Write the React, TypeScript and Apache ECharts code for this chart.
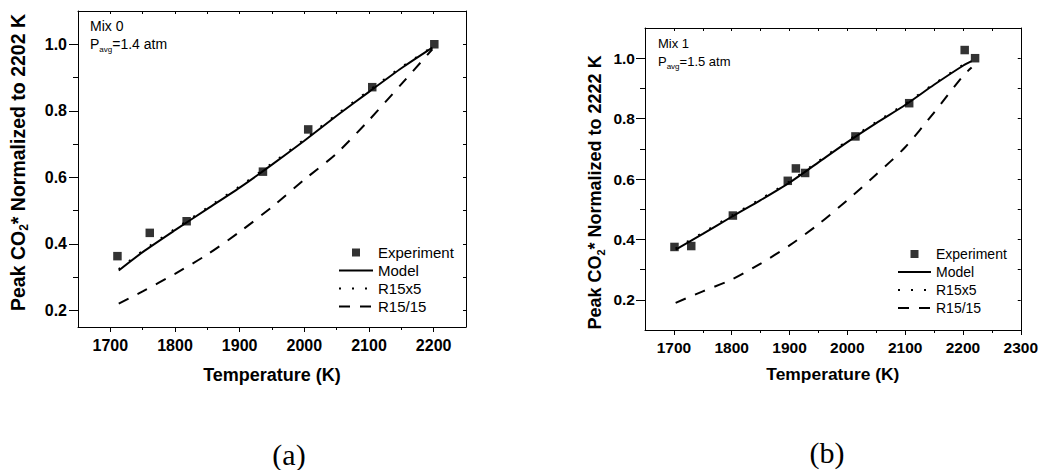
import React, { useEffect, useRef } from "react";
import * as echarts from "echarts";

// ---------- data ----------
// Panel (a): Mix 0, normalized to 2202 K
const expTempA = [1711, 1761, 1818, 1936, 2006, 2105, 2201];
const expValA = [0.363, 0.433, 0.468, 0.617, 0.744, 0.871, 1.0];
const modelTempA = [1713, 1750, 1800, 1850, 1900, 1950, 2000, 2050, 2100, 2150, 2198];
const modelValA = [0.32, 0.375, 0.441, 0.505, 0.569, 0.638, 0.71, 0.785, 0.857, 0.928, 0.99];
const r15x5ValA = [0.324, 0.379, 0.445, 0.509, 0.573, 0.642, 0.714, 0.789, 0.861, 0.931, 0.992];
const r1515ValA = [0.22, 0.257, 0.31, 0.368, 0.436, 0.511, 0.593, 0.672, 0.772, 0.88, 0.985];

// Panel (b): Mix 1, normalized to 2222 K
const expTempB = [1701, 1730, 1802, 1897, 1911, 1927, 2014, 2107, 2203, 2221];
const expValB = [0.375, 0.378, 0.479, 0.594, 0.635, 0.62, 0.741, 0.851, 1.027, 1.0];
const modelTempB = [1703, 1750, 1800, 1850, 1900, 1950, 2000, 2050, 2100, 2150, 2200, 2215];
const modelValB = [0.366, 0.418, 0.475, 0.53, 0.588, 0.655, 0.722, 0.785, 0.845, 0.912, 0.975, 0.99];
const r15x5ValB = [0.37, 0.422, 0.479, 0.534, 0.592, 0.659, 0.726, 0.789, 0.849, 0.915, 0.978, 0.992];
const r1515ValB = [0.19, 0.228, 0.267, 0.32, 0.38, 0.45, 0.53, 0.615, 0.705, 0.82, 0.941, 0.969];

// ticks
const xMajorA = [1700, 1800, 1900, 2000, 2100, 2200];
const xMinorA = [1750, 1850, 1950, 2050, 2150];
const xTopA = [1700, 1750, 1800, 1850, 1900, 1950, 2000, 2050, 2100, 2150, 2200];
const xMajorB = [1700, 1800, 1900, 2000, 2100, 2200, 2300];
const xMinorB = [1750, 1850, 1950, 2050, 2150, 2250];
const xTopB = [1700, 1750, 1800, 1850, 1900, 1950, 2000, 2050, 2100, 2150, 2200, 2250];
const yMajor = [0.2, 0.4, 0.6, 0.8, 1.0];
const yMinor = [0.3, 0.5, 0.7, 0.9];
const yAll = [0.2, 0.3, 0.4, 0.5, 0.6, 0.7, 0.8, 0.9, 1.0];

const seriesNames = ["Experiment", "Model", "R15x5", "R15/15"];

const FONT = "'Liberation Sans', Arial, Helvetica, sans-serif";
const SERIF = "'Liberation Serif', 'Times New Roman', serif";

const zip = (xs: number[], ys: number[]) => xs.map((x, i) => [x, ys[i]]);

function xAxes(grid: number, min: number, max: number, major: number[], minor: number[], top: number[], fs: number, titleFs: number, nameGap: number, margin: number) {
  const line = { show: true, onZero: false, lineStyle: { color: "#000", width: 1 } };
  return [
    {
      type: "value", gridIndex: grid, min, max, position: "bottom",
      axisLine: line,
      splitLine: { show: false },
      axisTick: { show: true, inside: false, length: 5, customValues: major, lineStyle: { color: "#000" } },
      axisLabel: { show: true, customValues: major, margin, fontSize: fs, fontWeight: "bold", color: "#000", fontFamily: FONT, formatter: (v: number) => String(v) },
      name: "Temperature (K)", nameLocation: "middle", nameGap,
      nameTextStyle: { fontSize: titleFs, fontWeight: "bold", color: "#000", fontFamily: FONT },
    },
    {
      type: "value", gridIndex: grid, min, max, position: "bottom",
      axisLine: { show: false, onZero: false },
      splitLine: { show: false },
      axisTick: { show: true, inside: false, length: 3, customValues: minor, lineStyle: { color: "#000" } },
      axisLabel: { show: false },
    },
    {
      type: "value", gridIndex: grid, min, max, position: "top",
      axisLine: line,
      splitLine: { show: false },
      axisTick: { show: true, inside: true, length: 3, customValues: top, lineStyle: { color: "#000" } },
      axisLabel: { show: false },
    },
  ];
}

function yAxes(grid: number, min: number, max: number, fs: number, title: string, titleFs: number, nameGap: number, namePad: number[], margin: number) {
  const line = { show: true, onZero: false, lineStyle: { color: "#000", width: 1 } };
  return [
    {
      type: "value", gridIndex: grid, min, max, position: "left",
      axisLine: line,
      splitLine: { show: false },
      axisTick: { show: true, inside: false, length: 9, customValues: yMajor, lineStyle: { color: "#000" } },
      axisLabel: { show: true, customValues: yMajor, margin, fontSize: fs, fontWeight: "bold", color: "#000", fontFamily: FONT, formatter: (v: number) => v.toFixed(1) },
      name: title, nameLocation: "middle", nameGap,
      nameTextStyle: {
        fontSize: titleFs, fontWeight: "bold", color: "#000", fontFamily: FONT, padding: namePad,
        rich: { s: { fontSize: Math.round(titleFs * 0.62), fontWeight: "bold", color: "#000", fontFamily: FONT, padding: [12, 0, 0, 0] } },
      },
    },
    {
      type: "value", gridIndex: grid, min, max, position: "left",
      axisLine: { show: false, onZero: false },
      splitLine: { show: false },
      axisTick: { show: true, inside: false, length: 5, customValues: yMinor, lineStyle: { color: "#000" } },
      axisLabel: { show: false },
    },
    {
      type: "value", gridIndex: grid, min, max, position: "right",
      axisLine: line,
      splitLine: { show: false },
      axisTick: { show: true, inside: true, length: 3, customValues: yAll, lineStyle: { color: "#000" } },
      axisLabel: { show: false },
    },
  ];
}

function panelSeries(xi: number, yi: number, expT: number[], expV: number[], mT: number[], mV: number[], r5: number[], r15: number[]) {
  const common = { type: "line", xAxisIndex: xi, yAxisIndex: yi, symbol: "none", smooth: 0.25, itemStyle: { color: "#000" } };
  return [
    { name: seriesNames[0], type: "scatter", xAxisIndex: xi, yAxisIndex: yi, symbol: "rect", symbolSize: 8.5, itemStyle: { color: "#000" }, data: zip(expT, expV), z: 5 },
    { ...common, name: seriesNames[1], lineStyle: { color: "#000", width: 2 }, data: zip(mT, mV), z: 4 },
    { ...common, name: seriesNames[2], lineStyle: { color: "#000", width: 2, type: [2, 11] }, data: zip(mT, r5), z: 3 },
    { ...common, name: seriesNames[3], lineStyle: { color: "#000", width: 2, type: [11, 10] }, data: zip(mT, r15), z: 3 },
  ];
}

const squareIcon = "path://M0 0H10V10H0Z";

function legend(left: number, top: number, itemWidth: number, gap: number, fs: number) {
  const hidden = { opacity: 0 };
  return {
    orient: "vertical", left, top, padding: 0, itemWidth, itemHeight: 8, itemGap: gap,
    selectedMode: false,
    textStyle: { fontSize: fs, lineHeight: 14, color: "#000", fontFamily: FONT },
    data: [
      { name: seriesNames[0], icon: squareIcon },
      { name: seriesNames[1], itemStyle: hidden },
      { name: seriesNames[2], itemStyle: hidden },
      { name: seriesNames[3], itemStyle: hidden },
    ],
  };
}

function infoText(x: number, y1: number, y2: number, mix: string, p: string, fs: number) {
  return [
    { type: "text", x, y: y1, style: { text: mix, fontSize: fs, fontFamily: FONT, fill: "#000", verticalAlign: "middle", align: "left" } },
    {
      type: "text", x, y: y2,
      style: {
        text: "P{s|avg}=" + p, fontSize: fs, fontFamily: FONT, fill: "#000", verticalAlign: "middle", align: "left",
        rich: { s: { fontSize: 8, fontFamily: FONT, fill: "#000", padding: [10, 0, 0, 0] } },
      },
    },
  ];
}

export default function App() {
  const ref = useRef<HTMLDivElement>(null);
  useEffect(() => {
    if (!ref.current) return;
    const chart = echarts.init(ref.current, null, { renderer: "svg" });
    const option: any = {
      animation: false,
      backgroundColor: "#fff",
      textStyle: { fontFamily: FONT },
      grid: [
        { left: 78, top: 11, width: 388, height: 316 },
        { left: 645, top: 28, width: 378, height: 302 },
      ],
      xAxis: [
        ...xAxes(0, 1650, 2250, xMajorA, xMinorA, xTopA, 16, 18, 39, 10),
        ...xAxes(1, 1650, 2300, xMajorB, xMinorB, xTopB, 15.5, 17.4, 35, 9),
      ],
      yAxis: [
        ...yAxes(0, 0.15, 1.1, 16, "Peak CO{s|2}* Normalized to 2202 K", 19.5, 48, [0, 0, 0, 13], 11),
        ...yAxes(1, 0.1, 1.1, 15.5, "Peak CO{s|2}* Normalized to 2222 K", 18, 39, [0, 27, 0, 0], 10),
      ],
      legend: [legend(338, 245, 34, 3, 15), legend(897, 247, 33, 4, 14)],
      series: [
        ...panelSeries(0, 0, expTempA, expValA, modelTempA, modelValA, r15x5ValA, r1515ValA),
        ...panelSeries(3, 3, expTempB, expValB, modelTempB, modelValB, r15x5ValB, r1515ValB),
      ],
      graphic: [
        ...infoText(90, 25.7, 44.3, "Mix 0", "1.4 atm", 14),
        ...infoText(658, 43.8, 61.7, "Mix 1", "1.5 atm", 13),
        { type: "text", x: 289, y: 454, style: { text: "(a)", fontSize: 30, fontFamily: SERIF, fill: "#000", align: "center", verticalAlign: "middle" } },
        { type: "text", x: 827, y: 452, style: { text: "(b)", fontSize: 30, fontFamily: SERIF, fill: "#000", align: "center", verticalAlign: "middle" } },
      ],
    };
    chart.setOption(option);
    return () => chart.dispose();
  }, []);
  return <div ref={ref} style={{ position: "absolute", left: 0, top: 0, width: 1041, height: 470, background: "#fff" }} />;
}
